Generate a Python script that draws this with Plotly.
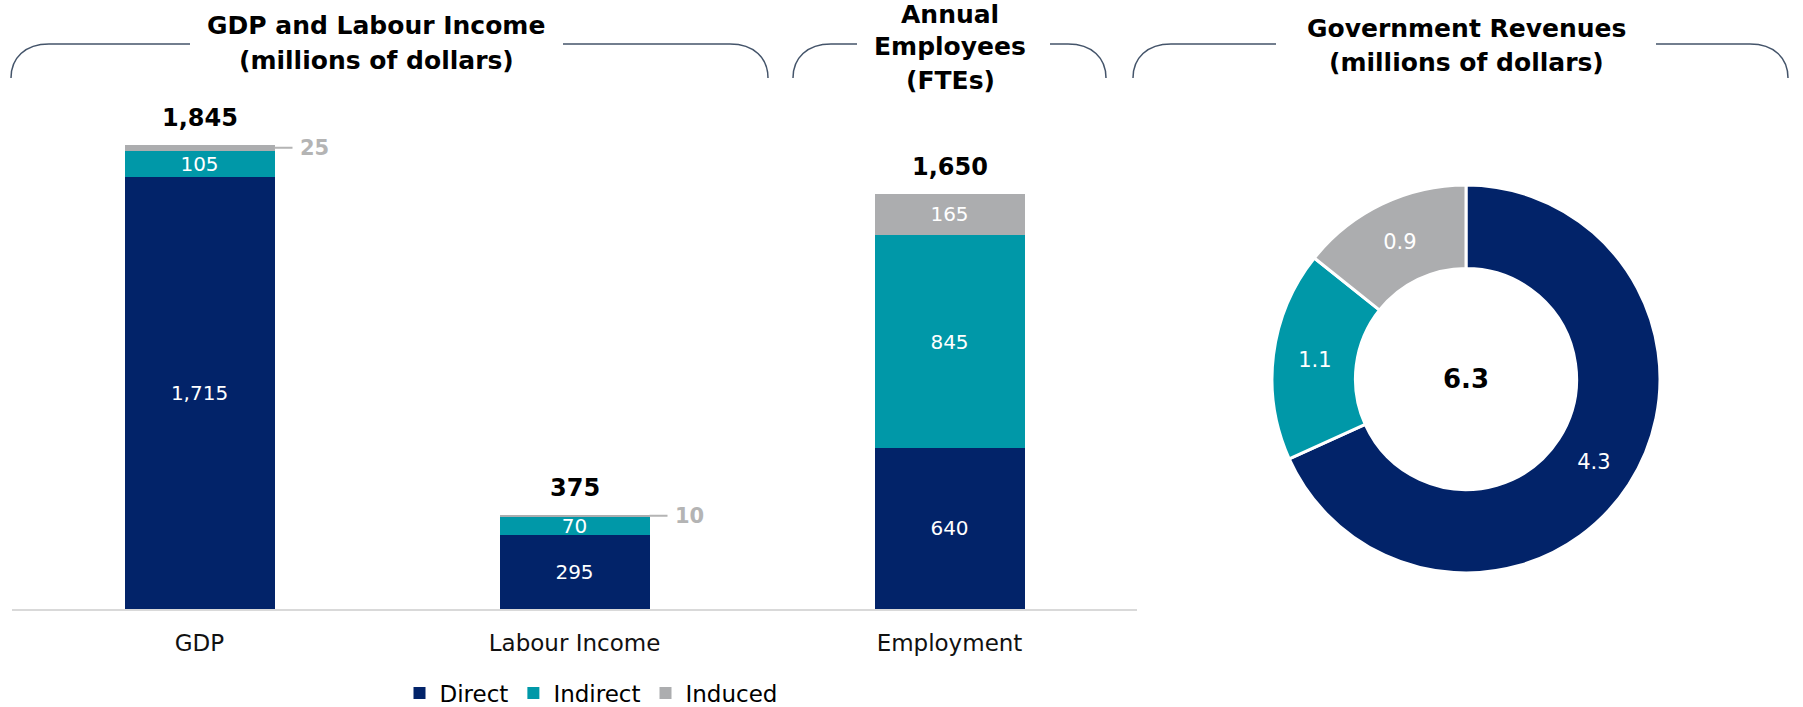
import plotly.graph_objects as go

W, H = 1803, 707

categories = ["GDP", "Labour Income", "Employment"]
direct = [1715, 295, 640]
indirect = [105, 70, 845]
induced = [25, 10, 165]

rev_labels = ["Direct", "Indirect", "Induced"]
rev_values = [4.3, 1.1, 0.9]

colors = {"Direct": "#022369", "Indirect": "#0098a8", "Induced": "#acadaf"}
FONT = "DejaVu Sans"

# px -> paper helpers (margins are zero)
def X(px):
    return px / W

def Y(py):
    return 1 - py / H

fig = go.Figure()

# induced shown inside only when the segment is tall enough
induced_text = [f"{v:,}" if v > 50 else "" for v in induced]
series = [("Direct", direct, [f"{v:,}" for v in direct]),
          ("Indirect", indirect, [f"{v:,}" for v in indirect]),
          ("Induced", induced, induced_text)]
for name, vals, txt in series:
    fig.add_trace(go.Bar(
        x=categories, y=vals, name=name, marker_color=colors[name],
        marker_line_width=0, text=txt, textposition="inside",
        insidetextanchor="middle", textangle=0, constraintext="none",
        textfont=dict(family=FONT, size=20, color="white"),
        hoverinfo="skip",
    ))

# totals above bars
for i, c in enumerate(categories):
    total = direct[i] + indirect[i] + induced[i]
    fig.add_annotation(x=c, y=total, text=f"<b>{total:,}</b>", showarrow=False,
                       xanchor="center", yanchor="bottom", yshift=11,
                       font=dict(family=FONT, size=24, color="black"))
    if induced[i] <= 50:
        fig.add_annotation(x=i + 0.2, y=total - induced[i] / 2,
                           text=f"<b>{induced[i]}</b>", showarrow=True,
                           arrowhead=0, arrowwidth=2, arrowcolor="#b4b4b4",
                           ax=40, ay=0, startstandoff=6, xanchor="center",
                           font=dict(family=FONT, size=21, color="#b4b4b4"))

fig.add_trace(go.Pie(
    labels=rev_labels, values=rev_values, hole=0.57, sort=False,
    direction="clockwise", rotation=0,
    marker=dict(colors=[colors[l] for l in rev_labels], line=dict(color="white", width=3)),
    texttemplate="%{value:.1f}", textposition="inside",
    insidetextorientation="horizontal",
    textfont=dict(family=FONT, size=21, color="white"),
    domain=dict(x=[X(1272), X(1660)], y=[Y(573), Y(185)]),
    showlegend=False, hoverinfo="skip",
))
fig.add_annotation(xref="paper", yref="paper", x=X(1466), y=Y(379),
                   xanchor="center", yanchor="middle",
                   text=f"<b>{sum(rev_values):.1f}</b>", showarrow=False,
                   font=dict(family=FONT, size=26, color="black"))

# section headers
titles = [
    (376, [(25, "GDP and Labour Income"), (61, "(millions of dollars)")]),
    (950, [(14, "Annual"), (47, "Employees"), (80, "(FTEs)")]),
    (1466, [(29, "Government Revenues"), (63, "(millions of dollars)")]),
]
for cx, lines in titles:
    for py, t in lines:
        fig.add_annotation(xref="paper", yref="paper", x=X(cx), y=Y(py),
                           xanchor="center", yanchor="middle",
                           text=f"<b>{t}</b>", showarrow=False,
                           font=dict(family=FONT, size=25, color="black"))

# bracket lines: (left end, gap start, gap end, right end)
brackets = [(11, 190, 563, 768), (793, 857, 1050, 1106), (1133, 1276, 1656, 1788)]
ly, by = 44, 78
for x0, g0, g1, x1 in brackets:
    left = (f"M {X(x0)},{Y(by)} C {X(x0)},{Y(ly + 14)} {X(x0 + 14)},{Y(ly)} {X(x0 + 38)},{Y(ly)} "
            f"L {X(g0)},{Y(ly)}")
    right = (f"M {X(g1)},{Y(ly)} L {X(x1 - 38)},{Y(ly)} "
             f"C {X(x1 - 14)},{Y(ly)} {X(x1)},{Y(ly + 14)} {X(x1)},{Y(by)}")
    for p in (left, right):
        fig.add_shape(type="path", path=p, xref="paper", yref="paper",
                      line=dict(color="#44546a", width=1.5))

fig.update_layout(
    width=W, height=H, barmode="stack", bargap=0.6,
    margin=dict(l=0, r=0, t=0, b=0, autoexpand=False),
    plot_bgcolor="white", paper_bgcolor="white",
    font=dict(family=FONT, size=20, color="black"),
    xaxis=dict(domain=[X(12), X(1137)], range=[-0.5, 2.5], showline=True,
               linecolor="#d9d9d9", linewidth=2, ticks="", showgrid=False,
               automargin=False,
               ticklabelstandoff=12, tickfont=dict(family=FONT, size=23, color="#111")),
    yaxis=dict(domain=[Y(609), Y(105.6)], range=[0, 2000], visible=False,
               automargin=False),
    legend=dict(orientation="h", x=X(591), xanchor="center", y=Y(693), yanchor="middle",
                font=dict(family=FONT, size=23, color="black"), traceorder="normal",
                itemwidth=30, tracegroupgap=0),
    showlegend=True,
)

# drop the default page margin so the figure sits at the window's corner
fig.write_html("out.html", config={"displayModeBar": False},
               post_script="document.body.style.margin='0';document.body.style.overflow='hidden';")
